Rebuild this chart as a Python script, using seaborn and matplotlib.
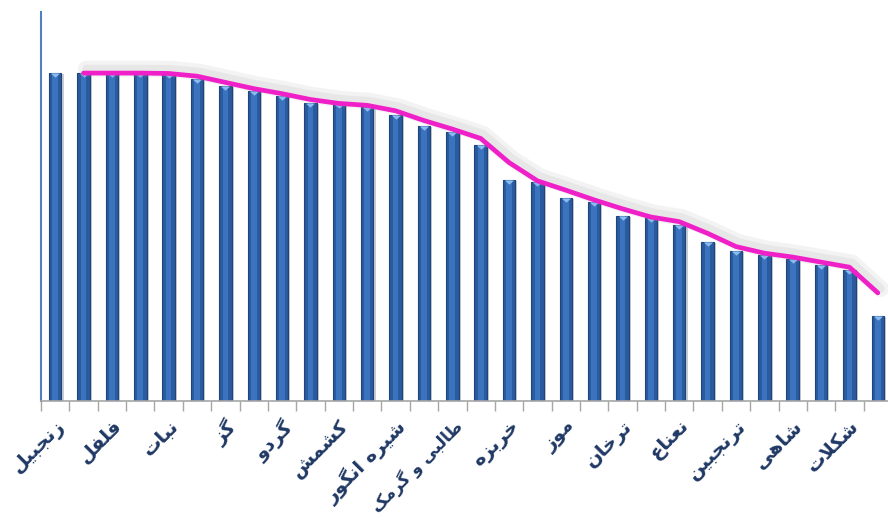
import matplotlib
matplotlib.use("Agg")
import matplotlib.pyplot as plt
import matplotlib.patheffects as pe
import numpy as np
import pandas as pd
import seaborn as sns

sns.set_theme(style="white")
plt.rcParams["font.family"] = ["DejaVu Sans"]

# every other category is labelled in the original chart
labels = ["زنجبیل", "فلفل", "نبات", "گز", "گردو", "کشمش", "شیره انگور",
          "طالبی و گرمک", "خربزه", "موز", "ترخان", "نعناع", "ترنجبین",
          "شاهی", "شکلات"]
values = [84.3, 84.3, 84.3, 84.3, 84.1, 82.8, 81.0, 79.7, 78.4, 76.6,
          76.3, 75.6, 73.5, 70.7, 69.2, 65.8, 56.8, 56.3, 52.2, 51.2,
          47.6, 47.0, 45.2, 40.9, 38.6, 37.5, 36.5, 35.0, 33.7, 21.9]
# trend line, starts at the 2nd bar
trend = [84.3, 84.3, 84.3, 84.2, 83.5, 81.9, 80.3, 79.0, 77.5, 76.5,
         76.0, 74.6, 72.1, 69.9, 67.5, 61.3, 56.6, 54.2, 51.7, 49.4,
         47.3, 46.1, 43.1, 39.7, 38.0, 37.0, 35.7, 34.4, 27.8]

# --- minimal arabic/persian shaping (matplotlib has no bidi/shaping) ---
FORMS = {
    "ا": ("\uFE8D", "\uFE8E", None, None),
    "ب": ("\uFE8F", "\uFE90", "\uFE91", "\uFE92"),
    "ت": ("\uFE95", "\uFE96", "\uFE97", "\uFE98"),
    "ج": ("\uFE9D", "\uFE9E", "\uFE9F", "\uFEA0"),
    "خ": ("\uFEA5", "\uFEA6", "\uFEA7", "\uFEA8"),
    "د": ("\uFEA9", "\uFEAA", None, None),
    "ر": ("\uFEAD", "\uFEAE", None, None),
    "ز": ("\uFEAF", "\uFEB0", None, None),
    "ش": ("\uFEB5", "\uFEB6", "\uFEB7", "\uFEB8"),
    "ط": ("\uFEC1", "\uFEC2", "\uFEC3", "\uFEC4"),
    "ع": ("\uFEC9", "\uFECA", "\uFECB", "\uFECC"),
    "ف": ("\uFED1", "\uFED2", "\uFED3", "\uFED4"),
    "ل": ("\uFEDD", "\uFEDE", "\uFEDF", "\uFEE0"),
    "م": ("\uFEE1", "\uFEE2", "\uFEE3", "\uFEE4"),
    "ن": ("\uFEE5", "\uFEE6", "\uFEE7", "\uFEE8"),
    "ه": ("\uFEE9", "\uFEEA", "\uFEEB", "\uFEEC"),
    "و": ("\uFEED", "\uFEEE", None, None),
    "ی": ("\uFBFC", "\uFBFD", "\uFBFE", "\uFBFF"),
    "ک": ("\uFB8E", "\uFB8F", "\uFB90", "\uFB91"),
    "گ": ("\uFB92", "\uFB93", "\uFB94", "\uFB95"),
}


def shape(text):
    out = []
    i = 0
    while i < len(text):
        ch = text[i]
        prev = text[i - 1] if i > 0 else ""
        prev_joins = prev in FORMS and FORMS[prev][2] is not None
        if ch == "ل" and i + 1 < len(text) and text[i + 1] == "ا":
            out.append("\uFEFC" if prev_joins else "\uFEFB")
            i += 2
            continue
        if ch not in FORMS:
            out.append(ch)
            i += 1
            continue
        nxt = text[i + 1] if i + 1 < len(text) else ""
        next_joins = FORMS[ch][2] is not None and nxt in FORMS
        iso, fin, ini, med = FORMS[ch]
        if prev_joins and next_joins:
            out.append(med)
        elif prev_joins:
            out.append(fin)
        elif next_joins:
            out.append(ini)
        else:
            out.append(iso)
        i += 1
    return "".join(out)[::-1]


df = pd.DataFrame({"pos": np.arange(len(values)), "value": values})

fig = plt.figure(figsize=(8.88, 5.29), dpi=100)
ax = fig.add_axes([41 / 888, 128 / 529, 851 / 888, 389 / 529])

# bars: dark body + lighter centre strip for the rounded look
sns.barplot(data=df, x="pos", y="value", color="#2A5B9E", width=0.44,
            edgecolor="#1E4479", linewidth=0.8, saturation=1, ax=ax)
for bar in ax.patches:
    bar.set_path_effects([pe.SimplePatchShadow(offset=(1.5, -1), alpha=0.22),
                          pe.Normal()])
sns.barplot(data=df, x="pos", y="value", color="#3C73BE", width=0.2,
            linewidth=0, saturation=1, ax=ax)
# light cap on top of every bar
ax.scatter(df["pos"], df["value"], marker=[(-1, 0), (1, 0), (0, -0.9)], s=45,
           color="#8CBBEE", linewidths=0, zorder=3)

sns.lineplot(x=np.arange(1, len(trend) + 1), y=trend, color="#F020C8", lw=3.4,
             ax=ax, zorder=4,
             path_effects=[pe.SimpleLineShadow(offset=(2, 3), shadow_color="#A0A0A0",
                                               alpha=0.12, linewidth=12),
                           pe.SimpleLineShadow(offset=(2, 3), shadow_color="#A0A0A0",
                                               alpha=0.14, linewidth=6),
                           pe.Normal()])

ax.set_xlim(-0.5, len(values) - 0.5)
ax.set_ylim(0, 100)
ax.set(xlabel="", ylabel="", yticks=[])

sns.despine(ax=ax)
ax.spines["left"].set_color("#4F81BD")
ax.spines["left"].set_linewidth(1.5)
ax.spines["bottom"].set_color("#A6A6A6")
ax.spines["bottom"].set_linewidth(1.2)

ax.set_xticks(np.arange(-0.5, len(values), 1))
ax.set_xticklabels([])
ax.tick_params(axis="x", which="major", length=7, width=1, color="#A6A6A6",
               direction="out", bottom=True)
ax.set_xticks(np.arange(0, len(values), 2), minor=True)
ticklabels = ax.set_xticklabels([shape(t) for t in labels], minor=True, rotation=45,
                                ha="right", rotation_mode="anchor", fontsize=14,
                                fontweight="bold", color="#1F3864")
# the longest label would run off the bottom edge at full size
ticklabels[labels.index("طالبی و گرمک")].set_fontsize(12)
ax.tick_params(axis="x", which="minor", length=0, pad=11, bottom=True)

fig.savefig("out.png", dpi=100)
